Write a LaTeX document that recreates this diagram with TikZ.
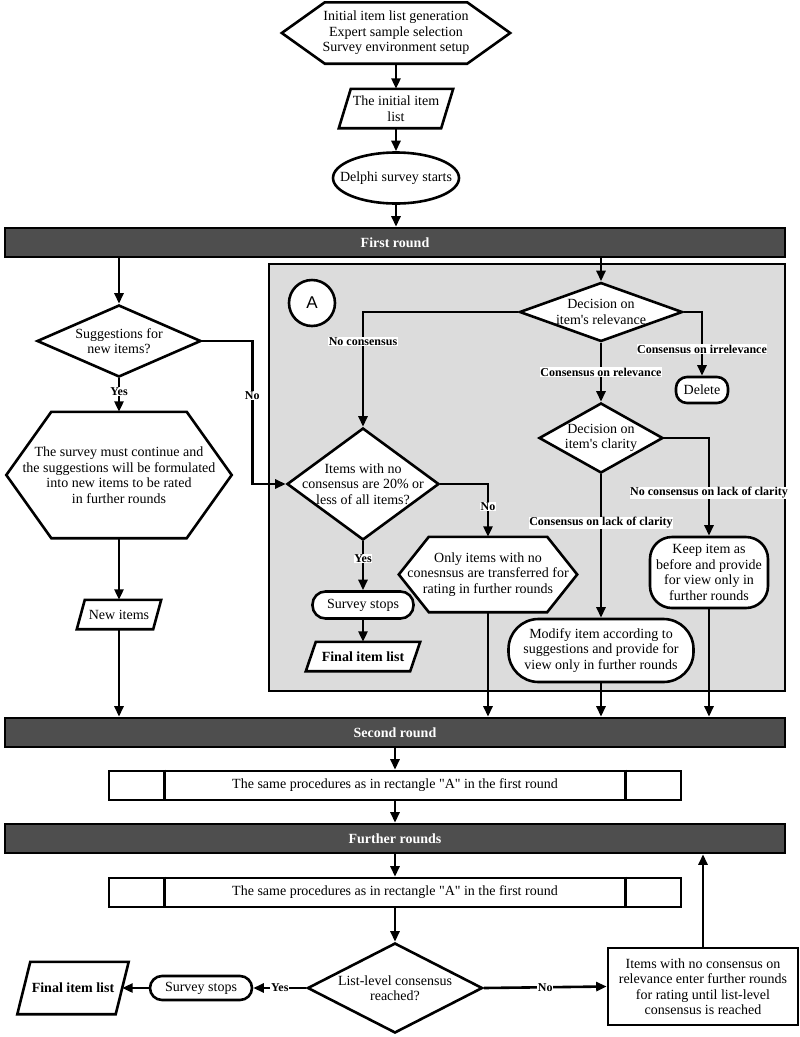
\documentclass[tikz,border=0pt]{standalone}
\usepackage{fontspec}
\setmainfont{Liberation Serif}[Ligatures=TeXOff]
\newfontfamily\sansA{Liberation Sans}
\usetikzlibrary{arrows.meta,shapes.geometric,calc}
\pgfdeclarelayer{bg}
\pgfsetlayers{bg,main}
\definecolor{bardark}{RGB}{78,78,78}
\definecolor{boxgray}{RGB}{220,220,220}
\begin{document}
\begin{tikzpicture}[x=1pt,y=-1pt,
  every node/.style={font=\fontsize{14}{15.5}\selectfont},
  ln/.style={line width=2.6pt},
  conn/.style={line width=2.6pt,-{Triangle[length=10.5pt,width=9pt]}},
  shp/.style={draw,fill=white,line width=2.6pt},
  core/.style={rectangle,draw=none,inner sep=0pt},
  txt/.style={align=center,inner sep=0pt},
  lbl/.style={fill=white,inner sep=0.6pt,font=\fontsize{12}{13}\selectfont\bfseries},
  dia/.style={diamond,shp,inner sep=0pt},
  rbox/.style={rectangle,shp,inner sep=0pt,align=center},
  bar/.style={rectangle,draw,fill=bardark,line width=2.6pt,minimum width=780pt,minimum height=29pt,inner sep=0pt,text=white,font=\fontsize{14}{15}\selectfont\bfseries}
]
\useasboundingbox (0,0) rectangle (800,1037);

\begin{pgfonlayer}{bg}
\draw[ln,fill=boxgray] (269,264) rectangle (785,691);
\end{pgfonlayer}

% top
\node[core,minimum width=142pt,minimum height=61pt] (init) at (396,33) {};
\node[txt] (initT) at (init) {Initial item list generation\\Expert sample selection\\Survey environment setup};
\node[core,minimum width=102pt,minimum height=39pt] (ilist) at (396,108.5) {};
\node[txt] (ilistT) at (ilist) {The initial item\\list};
\node[ellipse,shp,minimum width=126pt,minimum height=51pt,inner sep=0pt] (start) at (396,178) {};
\node[txt] (startT) at (start) {Delphi survey starts};
\node[bar] (bar1) at (395,242.5) {First round};

% left column
\node[dia,minimum width=164pt,minimum height=72pt] (sugg) at (119,341) {};
\node[txt] (suggT) at (sugg) {Suggestions for\\new items?};
\node[core,minimum width=135pt,minimum height=126pt] (bighex) at (119,475) {};
\node[txt] (bighexT) at (bighex) {The survey must continue and\\the suggestions will be formulated\\into new items to be rated\\in further rounds};
\node[core,minimum width=76pt,minimum height=29pt] (newit) at (119,614.5) {};
\node[txt] (newitT) at (newit) {New items};

% box A
\node[circle,shp,minimum size=46pt,inner sep=0pt,font=\sansA\fontsize{17}{17}\selectfont] (circA) at (312,303) {A};
\node[dia,minimum width=163pt,minimum height=59pt] (rel) at (601,312) {};
\node[txt] (relT) at (rel) {Decision on\\item's relevance};
\node[rbox,rounded corners=11pt,minimum width=52pt,minimum height=26pt] (del) at (702,390) {Delete};
\node[dia,minimum width=124pt,minimum height=70pt] (clar) at (601,438) {};
\node[txt] (clarT) at (clar) {Decision on\\item's clarity};
\node[rbox,rounded corners=22pt,minimum width=118pt,minimum height=71pt] (keep) at (709,572.5) {Keep item as\\before and provide\\for view only in\\further rounds};
\node[rbox,rounded corners=30pt,minimum width=185pt,minimum height=63pt] (modify) at (601,650.5) {Modify item according to\\suggestions and provide for\\view only in further rounds};
\node[dia,minimum width=152pt,minimum height=112pt] (q20) at (363,484) {};
\node[txt] (q20T) at (q20) {Items with no\\consensus are 20\% or\\less of all items?};
\node[core,minimum width=118pt,minimum height=75pt] (only) at (488,574.5) {};
\node[txt] (onlyT) at (only) {Only items with no\\conesnsus are transferred for\\rating in further rounds};
\node[rbox,rounded corners=13pt,minimum width=101pt,minimum height=27pt] (stop1) at (363,605) {Survey stops};
\node[core,minimum width=104pt,minimum height=29pt] (fin1) at (363,656.5) {};
\node[txt,font=\fontsize{14}{15.5}\selectfont\bfseries] (fin1T) at (fin1) {Final item list};

% lower part
\node[bar] (bar2) at (395,732.5) {Second round};
\node[rbox,minimum width=572pt,minimum height=29pt] (proc1) at (395,785.5) {The same procedures as in rectangle "A" in the first round};
\node[bar] (bar3) at (395,838.5) {Further rounds};
\node[rbox,minimum width=572pt,minimum height=29pt] (proc2) at (395,892.5) {The same procedures as in rectangle "A" in the first round};
\node[dia,minimum width=175pt,minimum height=90pt] (list) at (395,988) {};
\node[txt] (listT) at (list) {List-level consensus\\reached?};
\node[rbox,rounded corners=12pt,minimum width=102pt,minimum height=24pt] (stop2) at (201,988) {Survey stops};
\node[core,minimum width=98pt,minimum height=52pt] (fin2) at (73,988) {};
\node[txt,font=\fontsize{14}{15.5}\selectfont\bfseries] (fin2T) at (fin2) {Final item list};
\node[rbox,minimum width=190pt,minimum height=77pt] (items) at (703,986.5) {Items with no consensus on\\relevance enter further rounds\\for rating until list-level\\consensus is reached};

\draw[ln] ([xshift=57pt]proc1.north west) -- ([xshift=57pt]proc1.south west);
\draw[ln] ([xshift=-57pt]proc1.north east) -- ([xshift=-57pt]proc1.south east);
\draw[ln] ([xshift=57pt]proc2.north west) -- ([xshift=57pt]proc2.south west);
\draw[ln] ([xshift=-57pt]proc2.north east) -- ([xshift=-57pt]proc2.south east);

% hexagons and parallelograms behind their texts
\begin{pgfonlayer}{bg}
\path[shp] (init.north west) -- (init.north east) -- ([xshift=43pt]init.east) -- (init.south east) -- (init.south west) -- ([xshift=-43pt]init.west) -- cycle;
\path[shp] (bighex.north west) -- (bighex.north east) -- ([xshift=45pt]bighex.east) -- (bighex.south east) -- (bighex.south west) -- ([xshift=-45pt]bighex.west) -- cycle;
\path[shp] (only.north west) -- (only.north east) -- ([xshift=30pt]only.east) -- (only.south east) -- (only.south west) -- ([xshift=-30pt]only.west) -- cycle;
\path[shp] ([xshift=6pt]ilist.north west) -- ([xshift=6pt]ilist.north east) -- ([xshift=-6pt]ilist.south east) -- ([xshift=-6pt]ilist.south west) -- cycle;
\path[shp] ([xshift=4pt]newit.north west) -- ([xshift=4pt]newit.north east) -- ([xshift=-4pt]newit.south east) -- ([xshift=-4pt]newit.south west) -- cycle;
\path[shp] ([xshift=5pt]fin1.north west) -- ([xshift=5pt]fin1.north east) -- ([xshift=-5pt]fin1.south east) -- ([xshift=-5pt]fin1.south west) -- cycle;
\path[shp] ([xshift=6.5pt]fin2.north west) -- ([xshift=6.5pt]fin2.north east) -- ([xshift=-6.5pt]fin2.south east) -- ([xshift=-6.5pt]fin2.south west) -- cycle;
\end{pgfonlayer}

% connectors
\draw[conn] (init.south) -- (ilist.north);
\draw[conn] (ilist.south) -- (start.north);
\draw[conn] (start.south) -- (start.south |- bar1.north);
\draw[conn] (bar1.south -| sugg.north) -- (sugg.north);
\draw[conn] (bar1.south -| rel.north) -- (rel.north);
\draw[conn] (sugg.south) -- (bighex.north) node[lbl,pos=0.4]{Yes};
\draw[conn] (bighex.south) -- (newit.north);
\draw[conn] (newit.south) -- (newit.south |- bar2.north);
\draw[conn] (sugg.east) -- ++(50,0) |- (q20.west) node[lbl,pos=0.19]{No};
\draw[conn] (rel.west) -| (q20.north) node[lbl,pos=0.63]{No consensus};
\draw[conn] (rel.east) -| (del.north) node[lbl,pos=0.79]{Consensus on irrelevance};
\draw[conn] (rel.south) -- (clar.north) node[lbl,pos=0.5]{Consensus on relevance};
\draw[conn] (clar.east) -| (keep.north) node[lbl,pos=0.78]{No consensus on lack of clarity};
\draw[conn] (clar.south) -- (modify.north) node[lbl,pos=0.34]{Consensus on lack of clarity};
\draw[conn] (q20.east) -| (only.north) node[lbl,pos=0.715]{No};
\draw[conn] (q20.south) -- (stop1.north) node[lbl,pos=0.35]{Yes};
\draw[conn] (stop1.south) -- (fin1.north);
\draw[conn] (only.south) -- (only.south |- bar2.north);
\draw[conn] (modify.south) -- (modify.south |- bar2.north);
\draw[conn] (keep.south) -- (keep.south |- bar2.north);
\draw[conn] (bar2.south) -- (proc1.north);
\draw[conn] (proc1.south) -- (bar3.north);
\draw[conn] (bar3.south) -- (proc2.north);
\draw[conn] (proc2.south) -- (list.north);
\draw[conn] (list.west) -- (stop2.east) node[lbl,pos=0.5]{Yes};
\draw[conn] (stop2.west) -- (fin2.east);
\draw[conn] (list.east) -- (items.west) node[lbl,pos=0.5]{No};
\draw[conn] (items.north) -- (items.north |- bar3.south);
\end{tikzpicture}
\end{document}
